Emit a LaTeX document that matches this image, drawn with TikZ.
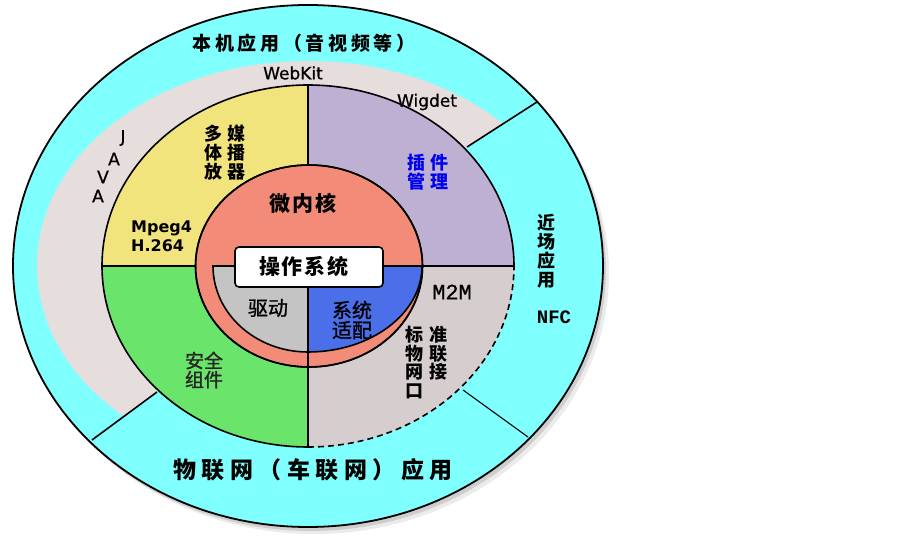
\documentclass[tikz,border=0pt]{standalone}
\usepackage{fontspec}
\newfontfamily\cjk{Noto Sans CJK SC}
\newfontfamily\cjkm{Noto Sans CJK SC}[FakeBold=1.2]
\newfontfamily\dvs{DejaVu Sans}[FakeBold=0.8]
\newfontfamily\dvsb{DejaVu Sans}
\newfontfamily\mono{Liberation Mono}[FakeBold=0.6]
\newfontfamily\monob{Liberation Mono}
\definecolor{cyanc}{HTML}{80FFFF}
\definecolor{ringgray}{HTML}{E6DEDC}
\definecolor{yelc}{HTML}{F2E47C}
\definecolor{purc}{HTML}{BEB0D2}
\definecolor{grnc}{HTML}{6AE46A}
\definecolor{lrgray}{HTML}{D6CECE}
\definecolor{redc}{HTML}{F28C78}
\definecolor{igray}{HTML}{C4C4C4}
\definecolor{bluec}{HTML}{4A6FE8}
\definecolor{txtblue}{HTML}{0000F0}
\tikzset{
  edge/.style={draw=black, line width=1.6},
  cjkb/.style={font={\cjk\bfseries\fontsize{#1}{#1}\selectfont}, inner sep=0, align=center},
  cjkb/.default=18,
  cjkv/.style={font={\cjk\bfseries\fontsize{18}{19}\selectfont}, inner sep=0, align=center},
  cjkr/.style={font={\cjkm\fontsize{#1}{#1}\selectfont}, inner sep=0, align=center},
  lat/.style={font={\dvs\fontsize{17}{17}\selectfont}, inner sep=0},
}
\begin{document}
\begin{tikzpicture}[x=1pt,y=1pt]
\useasboundingbox (0,0) rectangle (903,536);
\fill[white] (0,0) rectangle (903,536);
\coordinate (C) at (308,270);
% shadow (bottom right)
\fill[black,opacity=0.08] (314,263) ellipse [x radius=295, y radius=261];
\fill[black,opacity=0.12] (311,266) ellipse [x radius=295, y radius=261];
% outer ring
\fill[cyanc] (C) ellipse [x radius=295, y radius=261];
% gray ring (upper left arc)
\coordinate (l1a) at (467,389);
\coordinate (l1b) at (537,434);
\coordinate (l2a) at (463,146);
\coordinate (l2b) at (528,99);
\coordinate (l3a) at (157,144);
\coordinate (l3b) at (92,96);
\begin{scope}
\clip (l1a) -- (747,569) -- (747,800) -- (-300,800) -- (-300,-48) -- (-103,-48) -- (l3a) -- (C) -- cycle;
\fill[ringgray] (C) ellipse [x radius=271, y radius=205];
\end{scope}
\draw[line width=1.8] (C) ellipse [x radius=295, y radius=261];
% quadrants
\fill[yelc] (C) -- ++(-206,0) arc[start angle=180,end angle=90,x radius=206,y radius=181] -- cycle;
\fill[purc] (C) -- ++(0,181) arc[start angle=90,end angle=0,x radius=206,y radius=181] -- cycle;
\fill[grnc] (C) -- ++(-206,0) arc[start angle=180,end angle=270,x radius=206,y radius=181] -- cycle;
\fill[lrgray] (C) -- ++(206,0) arc[start angle=0,end angle=-90,x radius=206,y radius=181] -- cycle;
\draw[edge] (C) ++(206,0) arc[start angle=0,end angle=270,x radius=206,y radius=181];
\draw[edge, dash pattern=on 6pt off 4pt] (C) ++(0,-181) arc[start angle=270,end angle=360,x radius=206,y radius=181];
\draw[edge] (C) ++(-206,0) -- ++(412,0);
\draw[edge] (C) ++(0,181) -- ++(0,-362);
% dividers of outer ring
\draw[edge] (l1a) -- (l1b);
\draw[line width=1.1] (l2a) -- (l2b);
\draw[edge] (l3a) -- (l3b);
% core
\filldraw[fill=redc, edge] (309,270) ellipse [x radius=113.5, y radius=101];
\filldraw[fill=igray, edge] (C) -- ++(-95,0) arc[start angle=180,end angle=270,x radius=95,y radius=86] -- cycle;
\filldraw[fill=bluec, edge] (C) -- ++(114,0) arc[start angle=0,end angle=-90,x radius=114,y radius=86] -- cycle;
\draw[edge] (C) -- ++(0,-101);
\draw[edge] (309,270) ellipse [x radius=113.5, y radius=101];
\node[draw, edge, fill=white, rounded corners=4, minimum width=148, minimum height=40, inner sep=0] (os) at (309,269) {};
\node[cjkb=21] (ostxt) at (304,269) {操\hspace{2pt}作\hspace{2pt}系\hspace{2pt}统};
% texts
\node[cjkb=21] (core) at (303,333) {微\hspace{2pt}内\hspace{2pt}核};
\node[font={\cjk\bfseries\fontsize{19}{19}\selectfont\addfontfeatures{LetterSpace=19}}, inner sep=0] (top) at (304,493) {本机应用（音视频等）};
\node[font={\cjk\bfseries\fontsize{23}{23}\selectfont\addfontfeatures{LetterSpace=24}}, inner sep=0] (bot) at (313,66) {物联网（车联网）应用};
\node[cjkv] (near) at (546,285) {近\\场\\应\\用};
\node[font={\monob\bfseries\fontsize{19}{19}\selectfont}, inner sep=0] (nfc) at (554,219) {NFC};
\node[font={\mono\fontsize{22}{22}\selectfont}, inner sep=0] (m2m) at (452,244) {M2M};
\node[cjkv, font={\cjk\bfseries\fontsize{18}{18.5}\selectfont}, anchor=north west] (std) at (405,210) {标\hspace{6pt}准\\物\hspace{6pt}联\\网\hspace{6pt}接\\口\hspace{24pt}\mbox{}};
\node[cjkr=20] (sys) at (352,216) {系统\\适配};
\node[cjkr=20] (drv) at (268,228) {驱动};
\node[cjkv] (media) at (225,383) {多\hspace{5pt}媒\\体\hspace{5pt}播\\放\hspace{5pt}器};
\node[cjkv, text=txtblue] (plug) at (428,364) {插\hspace{5pt}件\\管\hspace{5pt}理};
\node[cjkr=19, text=black!85] (sec) at (204,166) {安全\\组件};
\node[font={\dvsb\bfseries\fontsize{16}{19}\selectfont}, inner sep=0, align=left, anchor=north west] (mpeg) at (131,315) {Mpeg4\\H.264};
\node[lat] (webkit) at (293,463) {WebKit};
\node[lat] (wigdet) at (427,434) {Wigdet};
\node[lat] (j1) at (123,398) {J};
\node[lat] (j2) at (114,377) {A};
\node[lat] (j3) at (103,359) {V};
\node[lat] (j4) at (98,340) {A};
\end{tikzpicture}
\end{document}
